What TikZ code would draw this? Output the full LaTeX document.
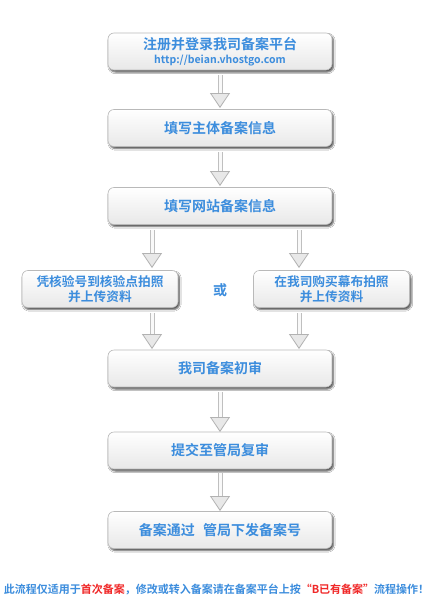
\documentclass[tikz,border=0pt]{standalone}
\usepackage{fontspec}
\newfontfamily\cjk{Noto Sans CJK SC}[BoldFont={Noto Sans CJK SC Bold}]
\usetikzlibrary{arrows.meta,shadows.blur}
\definecolor{txtblue}{HTML}{3C8DDD}
\definecolor{txtred}{HTML}{F02828}
\tikzset{
  stepbox/.style={draw=gray!55, line width=0.6pt, rounded corners=6pt,
    top color=white, bottom color=gray!18,
    blur shadow={shadow xshift=1.5pt, shadow yshift=-2pt, shadow blur steps=4, shadow opacity=70},
    minimum height=37pt, align=center, text=txtblue,
    font=\cjk\bfseries\fontsize{14}{16.5}\selectfont},
  mainbox/.style={stepbox, minimum width=224pt},
  sidebox/.style={stepbox, minimum width=156pt, font=\cjk\bfseries\fontsize{12.7}{15.5}\selectfont},
  flowout/.style={line width=5pt, draw=gray!50,
    -{Triangle[width=20pt,length=15pt,fill=gray!18,color=gray!60,line width=0.8pt]}},
  flowin/.style={line width=3pt, draw=gray!5, shorten >=15pt},
}
\newcommand{\flowarrow}[2]{%
  \draw[flowout] (#1) -- (#2);
  \draw[flowin] (#1) -- (#2);}
\begin{document}
\begin{tikzpicture}[x=1pt,y=-1pt]
\useasboundingbox[fill=white] (0,0) rectangle (433,600);
\node[mainbox] (b1) at (220,51.5) {注册并登录我司备案平台\\[-3pt]{\fontsize{10.5}{12}\selectfont http://beian.vhostgo.com}};
\node[mainbox] (b2) at (220,128) {填写主体备案信息};
\node[mainbox] (b3) at (220,206) {填写网站备案信息};
\node[sidebox] (l) at (100,289) {凭核验号到核验点拍照\\并上传资料};
\node[sidebox] (r) at (331.5,289) {在我司购买幕布拍照\\并上传资料};
\node[text=txtblue, font=\cjk\bfseries\fontsize{14}{16}\selectfont] (or) at (220,290) {或};
\node[mainbox] (b4) at (220,368.5) {我司备案初审};
\node[mainbox] (b5) at (220,450.5) {提交至管局复审};
\node[mainbox] (b6) at (220,530) {备案通过\hspace{0.6em}管局下发备案号};
\node[font=\cjk\bfseries\fontsize{11.0}{13}\selectfont, inner sep=0pt] (note) at (216.5,589)
  {\textcolor{txtblue}{此流程仅适用于}\textcolor{txtred}{首次备案}\textcolor{txtblue}{，修改或转入备案请在备案平台上按}\textcolor{txtred}{“B已有备案”}\textcolor{txtblue}{流程操作！}};
% anchor points
\coordinate (a1s) at (220,75);  \coordinate (a1e) at (220,108);
\coordinate (a2s) at (220,152); \coordinate (a2e) at (220,186);
\coordinate (la1) at (152,230); \coordinate (la2) at (152,268);
\coordinate (ra1) at (299,230); \coordinate (ra2) at (299,268);
\coordinate (lb1) at (152,313); \coordinate (lb2) at (152,349);
\coordinate (rb1) at (299,313); \coordinate (rb2) at (299,349);
\coordinate (a4s) at (220,392); \coordinate (a4e) at (220,432);
\coordinate (a5s) at (220,473); \coordinate (a5e) at (220,511);
\flowarrow{a1s}{a1e}
\flowarrow{a2s}{a2e}
\flowarrow{la1}{la2}
\flowarrow{ra1}{ra2}
\flowarrow{lb1}{lb2}
\flowarrow{rb1}{rb2}
\flowarrow{a4s}{a4e}
\flowarrow{a5s}{a5e}
\end{tikzpicture}
\end{document}
